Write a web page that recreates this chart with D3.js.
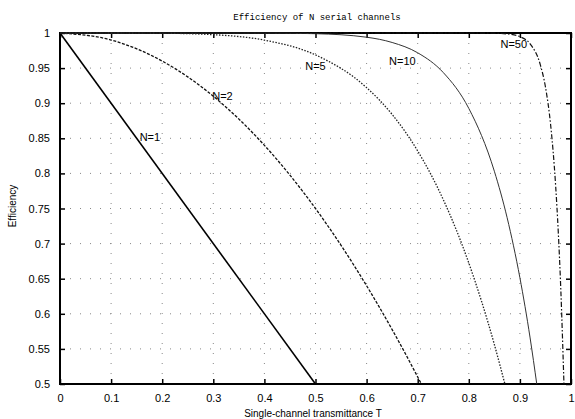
<!DOCTYPE html>
<html><head><meta charset="utf-8">
<script src="https://cdn.jsdelivr.net/npm/d3@7"></script>
<style>body{margin:0;background:#fff}svg{display:block}</style>
</head><body>
<svg id="c" width="575" height="419"></svg>
<script>
const title = "Efficiency of N serial channels";
const xLabel = "Single-channel transmittance T";
const yLabel = "Efficiency";
const xTicks = [0,0.1,0.2,0.3,0.4,0.5,0.6,0.7,0.8,0.9,1];
const yTicks = [0.5,0.55,0.6,0.65,0.7,0.75,0.8,0.85,0.9,0.95,1];

const seriesNames = ["N=1","N=2","N=5","N=10","N=50"];
const n1 = [[0,1],[0.5,0.5]];
const n2 = [[0,1],[0.1,0.99],[0.2,0.96],[0.3,0.91],[0.4,0.84],[0.5,0.75],[0.6,0.64],[0.65,0.5775],[0.7,0.51],[0.7071,0.5]];
const n5 = [[0,1],[0.1,1.0],[0.2,0.9997],[0.3,0.9976],[0.4,0.9898],[0.5,0.9688],[0.6,0.9222],[0.65,0.884],[0.7,0.8319],[0.75,0.7627],[0.8,0.6723],[0.85,0.5563],[0.8706,0.5]];
const n10 = [[0,1],[0.4,0.9999],[0.5,0.999],[0.6,0.994],[0.65,0.9865],[0.7,0.9718],[0.75,0.9437],[0.8,0.8926],[0.85,0.8031],[0.875,0.7369],[0.9,0.6513],[0.92,0.5656],[0.933,0.5]];
const n50 = [[0,1],[0.8,1.0],[0.85,0.9997],[0.88,0.9983],[0.9,0.9948],[0.92,0.9845],[0.94,0.9547],[0.95,0.9231],[0.96,0.8701],[0.97,0.7819],[0.975,0.718],[0.98,0.6358],[0.9862,0.5]];
const labelPos = [[0.176,0.85],[0.318,0.908],[0.5,0.951],[0.67,0.958],[0.888,0.983]];

const allSeries = [n1,n2,n5,n10,n50];
const styles = [
  {dash:null, w:1.6, c:"#000"},
  {dash:"3,1.5", w:1.3, c:"#111"},
  {dash:"1.5,1.5", w:1.3, c:"#222"},
  {dash:null, w:1.0, c:"#333"},
  {dash:"5,2,1.5,2", w:1.2, c:"#111"}
];

const svg = d3.select("#c");
const L=60, R=571, T=33, B=384;
const x = d3.scaleLinear().domain([0,1]).range([L,R]);
const y = d3.scaleLinear().domain([0.5,1]).range([B,T]);

// grid
const g = svg.append("g");
g.selectAll(".gx").data(xTicks.slice(1,-1)).join("line")
  .attr("x1",d=>x(d)).attr("x2",d=>x(d)).attr("y1",T).attr("y2",B)
  .attr("stroke","#888").attr("stroke-width",1).attr("stroke-dasharray","1,9");
g.selectAll(".gy").data(yTicks.slice(1,-1)).join("line")
  .attr("y1",d=>y(d)).attr("y2",d=>y(d)).attr("x1",L).attr("x2",R)
  .attr("stroke","#888").attr("stroke-width",1).attr("stroke-dasharray","1,9");

// axes
const ax = svg.append("g").attr("transform",`translate(0,${B})`)
  .call(d3.axisBottom(x).tickValues(xTicks).tickSize(-5).tickPadding(10).tickFormat(d3.format("")));
const axT = svg.append("g").attr("transform",`translate(0,${T})`)
  .call(d3.axisTop(x).tickValues(xTicks).tickSize(-5).tickFormat(""));
const ay = svg.append("g").attr("transform",`translate(${L},0)`)
  .call(d3.axisLeft(y).tickValues(yTicks).tickSize(-5).tickPadding(10).tickFormat(d3.format("")));
const ayR = svg.append("g").attr("transform",`translate(${R},0)`)
  .call(d3.axisRight(y).tickValues(yTicks).tickSize(-5).tickFormat(""));
[ax,axT,ay,ayR].forEach(a=>{
  a.select(".domain").remove();
  a.selectAll(".tick line").attr("stroke","#000").attr("stroke-width",1.5);
  a.selectAll("text").attr("font-family","Liberation Sans, Arial, sans-serif").attr("font-size",11).attr("fill","#000");
});

// frame
svg.append("rect").attr("x",L).attr("y",T).attr("width",R-L).attr("height",B-T)
  .attr("fill","none").attr("stroke","#000").attr("stroke-width",2);

// lines
const line = d3.line().x(d=>x(d[0])).y(d=>y(d[1])).curve(d3.curveMonotoneX);
allSeries.forEach((s,i)=>{
  const p = svg.append("path").attr("d",line(s)).attr("fill","none")
    .attr("stroke",styles[i].c).attr("stroke-width",styles[i].w);
  if(styles[i].dash) p.attr("stroke-dasharray",styles[i].dash);
});

// series labels
svg.selectAll(".lbl").data(seriesNames).join("text")
  .attr("x",(d,i)=>x(labelPos[i][0])).attr("y",(d,i)=>y(labelPos[i][1]))
  .attr("text-anchor","middle").attr("dominant-baseline","middle")
  .attr("font-family","Liberation Sans, Arial, sans-serif").attr("font-size",11)
  .text(d=>d);

// title and axis labels
svg.append("text").attr("x",317).attr("y",20).attr("text-anchor","middle")
  .attr("font-family","Liberation Mono, DejaVu Sans Mono, monospace").attr("font-size",9)
  .text(title);
svg.append("text").attr("x",313).attr("y",417).attr("text-anchor","middle")
  .attr("font-family","Liberation Sans, Arial, sans-serif").attr("font-size",10)
  .text(xLabel);
svg.append("text").attr("transform","translate(16,206) rotate(-90)").attr("text-anchor","middle")
  .attr("font-family","Liberation Sans, Arial, sans-serif").attr("font-size",10)
  .text(yLabel);
</script>
</body></html>
